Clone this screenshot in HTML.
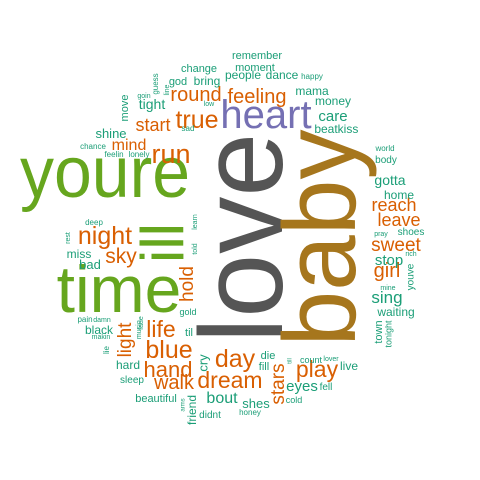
<!DOCTYPE html>
<html><head><meta charset="utf-8"><style>
html,body{margin:0;padding:0;background:#fff;width:480px;height:480px;overflow:hidden}
svg text{font-family:"Liberation Sans",Arial,sans-serif}
</style></head><body>
<svg id="cloud" width="480" height="480" viewBox="0 0 480 480"></svg>
<script>
// word cloud data: words, their sizes (frequency-scaled), and color groups
const words = ["love","baby","youre","time","ill","heart","run","true","round","feeling","start","mind","night","sky","hold","life","light","blue","hand","walk","day","dream","stars","play","girl","sweet","leave","reach",
"sing","remember","moment","change","people","dance","happy","god","bring","guess","line","goin","move","tight","low","sad","shine","chance","feelin","lonely","mama","money","care","beat","kiss","world","body","gotta","home","pray","shoes","stop","rich","youve","mine","waiting","town","tonight","die","fill","till","count","lover","live","eyes","fell","cold","shes","honey","bout","didnt","friend","arms","beautiful","sleep","hard","cry","til","gold","pain","damn","black","makin","lie","music","fade","miss","bad","rest","deep","learn","told"];
const sizes = [118,103,72,66,60,40,27,25,20,20,18,16,25,21,19,23,19,25,22,20,25,23,19,23,20,19,18,18,
17,11,11,11,12,12,8,11,12,8,7,7,11,14,7,8,13,8,8,8,12,12,15,12,12,8,10,14,12,7,10,15,7,10,7,12,11,9,11,11,6,9,7,12,15,10,9,13,8,16,10,12,6,11,10,12,13,11,9,8,7,12,7,8,7,7,12,13,7,8,7,7];
const groups = [7,6,3,3,3,2,1,1,1,1,1,1,1,1,1,1,1,1,1,1,1,1,1,1,1,1,1,1,
0,0,0,0,0,0,0,0,0,0,0,0,0,0,0,0,0,0,0,0,0,0,0,0,0,0,0,0,0,0,0,0,0,0,0,0,0,0,0,0,0,0,0,0,0,0,0,0,0,0,0,0,0,0,0,0,0,0,0,0,0,0,0,0,0,0,0,0,0,0,0,0];
const palette = ["#1b9e77","#d95f02","#7570b3","#66a61e","#e7298a","#e6ab02","#a6761d","#555555"];
// layout (placement from the cloud algorithm): [x, y, rotated, fitted length]
const layout = [[282,238,1,210],[355,238,1,217],[105,197,0,170],[119,312,0,0],[183,243,1,0],[266,128,0,0],[171,163,0,0],[197,128,0,0],[196,101,0,0],[257,103,0,0],[153,131,0,0],[129,150,0,0],[105,244,0,0],[121,263,0,0],[188,284,1,0],[161,337,0,0],[126,340,1,0],[169,358,0,0],[168,377,0,0],[174,389,0,0],[235,367,0,0],[230,388,0,0],[279,384,1,0],[317,377,0,0],[387,277,0,0],[396,251,0,0],[399,226,0,0],[394,211,0,0],
[387,303,0,0],[257,59,0,0],[255,71,0,0],[199,72,0,0],[243,79,0,0],[282,79,0,0],[312,79,0,0],[178,85,0,0],[207,85,0,0],[156,84,1,0],[167,90,1,0],[144,98,0,0],[125,108,1,0],[152,109,0,0],[209,106,0,0],[188,131,0,0],[111,138,0,0],[93,149,0,0],[114,157,0,0],[139,157,0,0],[312,95,0,0],[333,105,0,0],[333,121,0,0],[326,133,0,0],[348,133,0,0],[385,151,0,0],[386,163,0,0],[390,185,0,0],[399,199,0,0],[381,236,0,0],[411,235,0,0],[389,265,0,0],[411,256,0,0],[411,277,1,0],[388,290,0,0],[396,316,0,0],[379,332,1,0],[389,334,1,0],[268,359,0,0],[264,370,0,0],[290,361,1,0],[311,363,0,0],[331,361,0,0],[349,370,0,0],[302,391,0,0],[326,390,0,0],[294,403,0,0],[256,408,0,0],[250,415,0,0],[222,403,0,0],[210,418,0,0],[193,410,1,0],[183,405,1,0],[156,402,0,0],[132,383,0,0],[128,369,0,0],[204,363,1,0],[189,336,0,0],[188,315,0,0],[85,322,0,0],[102,322,0,0],[99,334,0,0],[101,339,0,0],[107,350,1,0],[139,330,1,0],[141,323,1,0],[79,258,0,0],[90,269,0,0],[68,238,1,0],[94,225,0,0],[195,222,1,0],[195,249,1,0]];

const svg = document.getElementById('cloud');
const NS = 'http://www.w3.org/2000/svg';
for (let i = 0; i < words.length; i++) {
  const [x, y, rot, len] = layout[i];
  const s = sizes[i];
  const t = document.createElementNS(NS, 'text');
  t.textContent = words[i];
  t.setAttribute('font-size', s);
  t.setAttribute('fill', palette[groups[i]]);
  t.setAttribute('text-anchor', 'middle');
  if (len) {
    t.setAttribute('textLength', len);
    t.setAttribute('lengthAdjust', 'spacingAndGlyphs');
  }
  if (rot) {
    const bx = i < 5 ? x : x + 0.27 * s;
    t.setAttribute('transform', 'translate(' + bx + ',' + y + ') rotate(-90)');
  } else {
    t.setAttribute('x', x);
    t.setAttribute('y', y);
  }
  
  
  svg.appendChild(t);
}
</script>
</body></html>
